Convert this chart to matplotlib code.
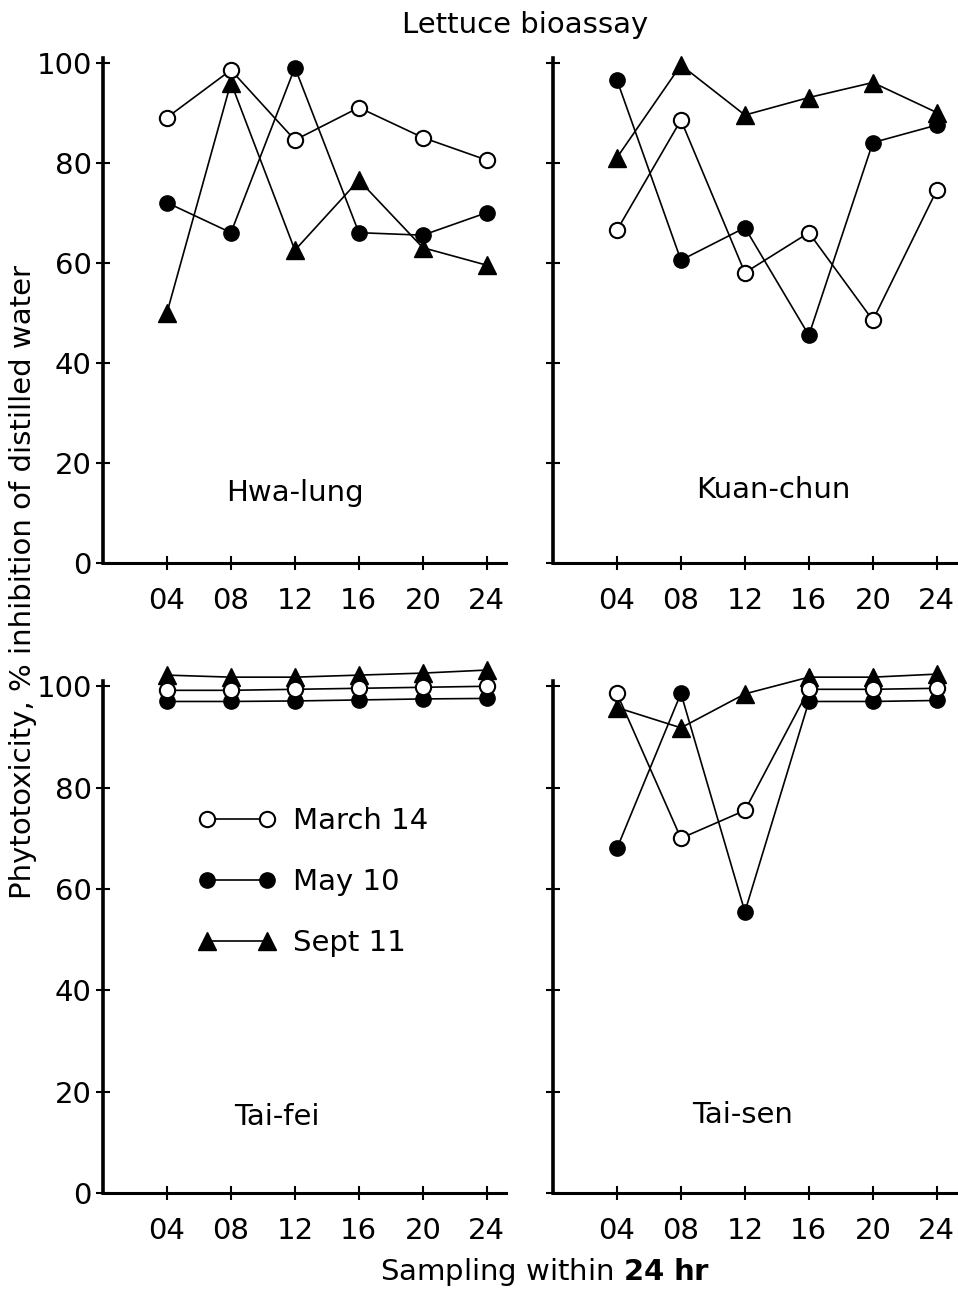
import matplotlib
matplotlib.use("Agg")
import matplotlib.pyplot as plt

# sampling hours
hours = [4, 8, 12, 16, 20, 24]
hour_labels = ["04", "08", "12", "16", "20", "24"]

# Hwa-lung
hwa_mar = [89, 98.5, 84.5, 91, 85, 80.5]
hwa_may = [72, 66, 99, 66, 65.5, 70]
hwa_sep = [50, 96, 62.5, 76.5, 63, 59.5]

# Kuan-chun
kuan_mar = [66.5, 88.5, 58, 66, 48.5, 74.5]
kuan_may = [96.5, 60.5, 67, 45.5, 84, 87.5]
kuan_sep = [81, 99.5, 89.5, 93, 96, 90]

# Tai-fei
fei_mar = [99.2, 99.2, 99.4, 99.6, 99.8, 100]
fei_may = [97, 97, 97.1, 97.3, 97.5, 97.6]
fei_sep = [102.2, 101.8, 101.8, 102.2, 102.6, 103.2]

# Tai-sen
sen_mar = [98.6, 70, 75.5, 99.4, 99.4, 99.6]
sen_may = [68, 98.6, 55.5, 97, 97, 97.2]
sen_sep = [95.8, 91.8, 98.5, 101.8, 101.8, 102.4]

dates = ["March 14", "May 10", "Sept 11"]

FS = 21

fig = plt.figure(figsize=(9.58, 12.94), dpi=100)


def panel(rect, mar, may, sep, name, name_xy, ytop, show_ylabels):
    ax = fig.add_axes(rect)
    lw = 1.2
    ax.plot(hours, mar, color="black", lw=lw, marker="o", ms=11,
            mfc="white", mec="black", mew=1.5, clip_on=False, label=dates[0], zorder=4)
    ax.plot(hours, may, color="black", lw=lw, marker="o", ms=11,
            mfc="black", mec="black", clip_on=False, label=dates[1], zorder=3)
    ax.plot(hours, sep, color="black", lw=lw, marker="^", ms=13,
            mfc="black", mec="black", clip_on=False, label=dates[2], zorder=3)
    ax.set_xlim(0, 25.2)
    ax.set_ylim(0, ytop)
    for s in ["top", "right"]:
        ax.spines[s].set_visible(False)
    ax.spines["left"].set_linewidth(2.6)
    ax.spines["bottom"].set_linewidth(2.2)
    ax.spines["left"].set_bounds(0, 101)
    ax.set_xticks(hours)
    ax.set_xticklabels(hour_labels)
    ax.set_yticks([0, 20, 40, 60, 80, 100])
    ax.tick_params(axis="both", direction="inout", length=10, width=1.5,
                   labelsize=FS)
    ax.tick_params(axis="x", pad=12)
    ax.tick_params(axis="y", pad=3)
    if not show_ylabels:
        ax.set_yticklabels([])
    ax.text(name_xy[0], name_xy[1], name, transform=ax.transAxes,
            ha="center", va="center", fontsize=FS)
    return ax


W = 403 / 958
panel([103 / 958, 731 / 1294, W, 508 / 1294], hwa_mar, hwa_may, hwa_sep,
      "Hwa-lung", (0.476, 0.138), 101.5, True)
panel([553 / 958, 731 / 1294, W, 508 / 1294], kuan_mar, kuan_may, kuan_sep,
      "Kuan-chun", (0.546, 0.144), 101.5, False)
ax3 = panel([103 / 958, 101 / 1294, W, 527 / 1294], fei_mar, fei_may, fei_sep,
            "Tai-fei", (0.432, 0.144), 104, True)
panel([553 / 958, 101 / 1294, W, 527 / 1294], sen_mar, sen_may, sen_sep,
      "Tai-sen", (0.471, 0.148), 104, False)

ax3.legend(loc="upper left", bbox_to_anchor=(0.237, 0.732), frameon=False,
           fontsize=FS, numpoints=2, handlelength=2.65, handletextpad=0.6,
           labelspacing=1.13, borderpad=0, borderaxespad=0)

fig.text(0.548, 0.981, "Lettuce bioassay", ha="center", va="center", fontsize=FS)
fig.text(0.024, 0.550, "Phytotoxicity, % inhibition of distilled water",
         rotation=90, ha="center", va="center", fontsize=FS)
fig.text(0.569, 0.017, r"Sampling within $\mathbf{24\ hr}$",
         ha="center", va="center", fontsize=FS)

fig.savefig("out.png", dpi=100)
